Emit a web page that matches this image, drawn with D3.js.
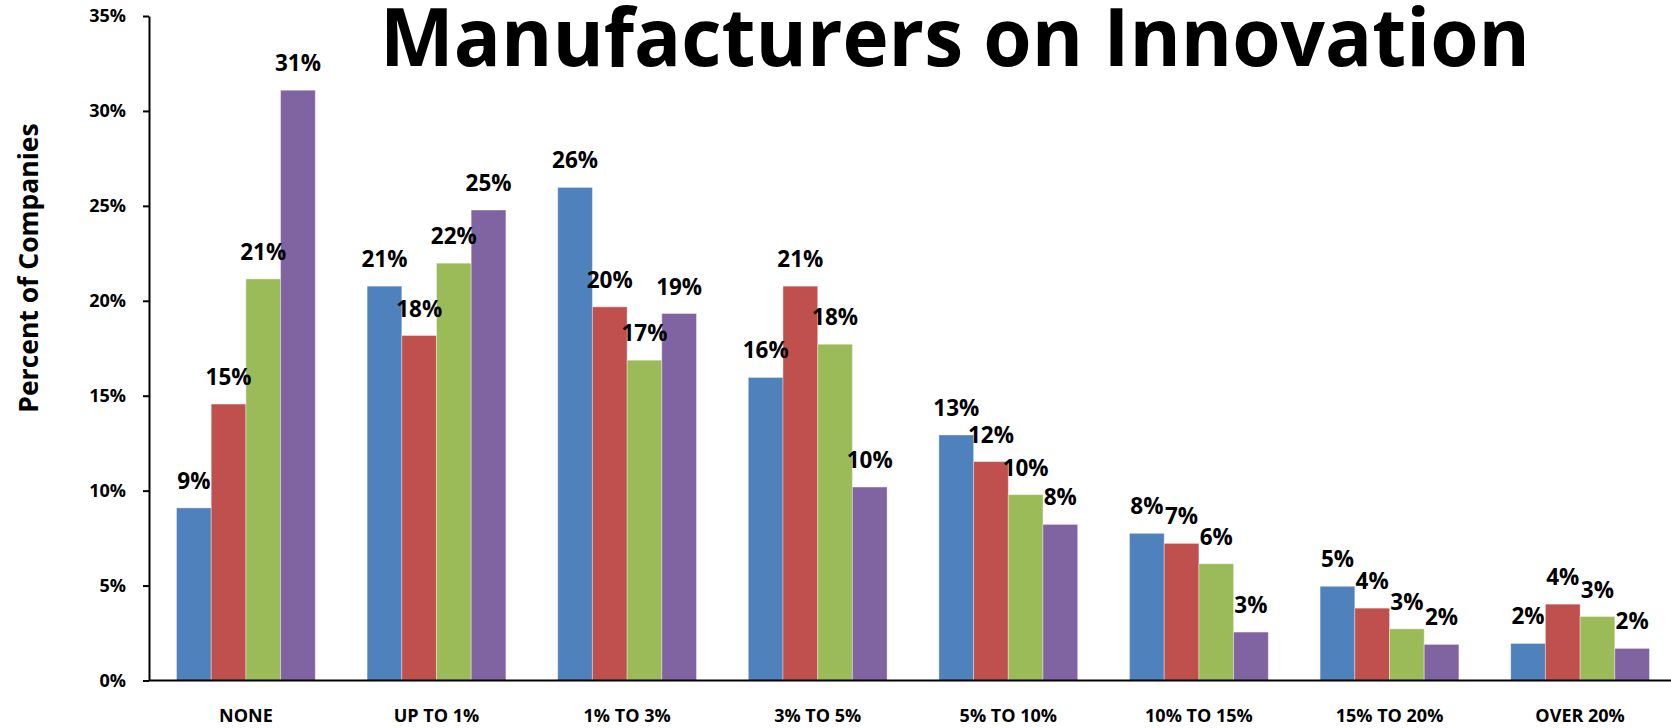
<!DOCTYPE html>
<html>
<head>
<meta charset="utf-8">
<script src="https://cdn.jsdelivr.net/npm/d3@7"></script>
<style>
  body { margin: 0; background: #fff; }
  svg { display: block; font-family: "Open Sans", "Noto Sans", sans-serif; font-weight: bold; font-variant-ligatures: none; }
  .axis path, .axis line { stroke: #000; stroke-width: 2; }
  .axis text { fill: #000; font-size: 18px; font-weight: bold; font-family: "Open Sans", sans-serif; }
</style>
</head>
<body>
<svg id="chart"></svg>
<script>
/* global d3 */

const categories = ['NONE', 'UP TO 1%', '1% TO 3%', '3% TO 5%', '5% TO 10%', '10% TO 15%', '15% TO 20%', 'OVER 20%'];

// four survey series, percent of companies per category
const seriesA = [9.09, 20.77, 25.97, 15.96, 12.93, 7.75, 4.96, 1.95];
const seriesB = [14.56, 18.17, 19.68, 20.77, 11.53, 7.22, 3.81, 4.02];
const seriesC = [21.15, 21.98, 16.87, 17.71, 9.79, 6.15, 2.72, 3.37];
const seriesD = [31.09, 24.78, 19.33, 10.19, 8.22, 2.55, 1.90, 1.69];

const seriesNames = ['A', 'B', 'C', 'D'];
const seriesColors = ['#4F81BD', '#C0504D', '#9BBB59', '#8064A2'];
const yTicks = [0, 5, 10, 15, 20, 25, 30, 35];

const WIDTH = 1671;
const HEIGHT = 728;

const allSeries = [seriesA, seriesB, seriesC, seriesD];
const rows = categories.map((cat, i) => ({
  cat,
  values: allSeries.map((s, j) => ({ key: seriesNames[j], value: s[i] })),
}));

const svg = d3.select('#chart')
  .attr('width', WIDTH)
  .attr('height', HEIGHT);

const x = d3.scaleBand()
  .domain(categories)
  .range([150.6, 1675.4])
  .paddingInner(0.272)
  .paddingOuter(0.136);

const x1 = d3.scaleBand()
  .domain(seriesNames)
  .range([0, x.bandwidth()]);

const y = d3.scaleLinear()
  .domain([0, 35])
  .range([680.5, 16]);

const color = d3.scaleOrdinal()
  .domain(seriesNames)
  .range(seriesColors);

//-------------------------------------------------
// bars

const groups = svg.append('g')
  .selectAll('g')
  .data(rows)
  .join('g')
  .attr('transform', d => `translate(${x(d.cat)},0)`);

groups.selectAll('rect')
  .data(d => d.values)
  .join('rect')
  .attr('x', d => x1(d.key))
  .attr('width', x1.bandwidth())
  .attr('y', d => y(d.value))
  .attr('height', d => y(0) - y(d.value))
  .attr('fill', d => color(d.key))
  .attr('stroke', 'rgba(255,255,255,0.35)')
  .attr('stroke-width', 1);

groups.selectAll('text')
  .data(d => d.values)
  .join('text')
  .attr('x', d => x1(d.key) + x1.bandwidth() / 2)
  .attr('y', d => y(d.value) - 19)
  .attr('text-anchor', 'middle')
  .attr('font-size', 22.5)
  .attr('fill', '#000')
  .text(d => `${Math.round(d.value)}%`);

//-------------------------------------------------
// axes

svg.append('g')
  .attr('class', 'axis x-axis')
  .attr('transform', `translate(0,${y(0)})`)
  .call(d3.axisBottom(x).tickSize(0).tickPadding(29))
  .call(g => g.select('.domain').attr('d', `M149,0H${WIDTH}`));

svg.append('g')
  .attr('class', 'axis y-axis')
  .attr('transform', 'translate(149,0)')
  .call(d3.axisLeft(y)
    .tickValues(yTicks)
    .tickSize(6)
    .tickSizeOuter(0)
    .tickPadding(17)
    .tickFormat(d => `${d}%`));

svg.append('text')
  .attr('transform', 'translate(38,268) rotate(-90)')
  .attr('text-anchor', 'middle')
  .attr('font-size', 26.5)
  .text('Percent of Companies');

svg.append('text')
  .attr('x', 380)
  .attr('y', 66)
  .attr('font-size', 80)
  .attr('textLength', 1150)
  .attr('lengthAdjust', 'spacingAndGlyphs')
  .text('Manufacturers on Innovation');
</script>
</body>
</html>
